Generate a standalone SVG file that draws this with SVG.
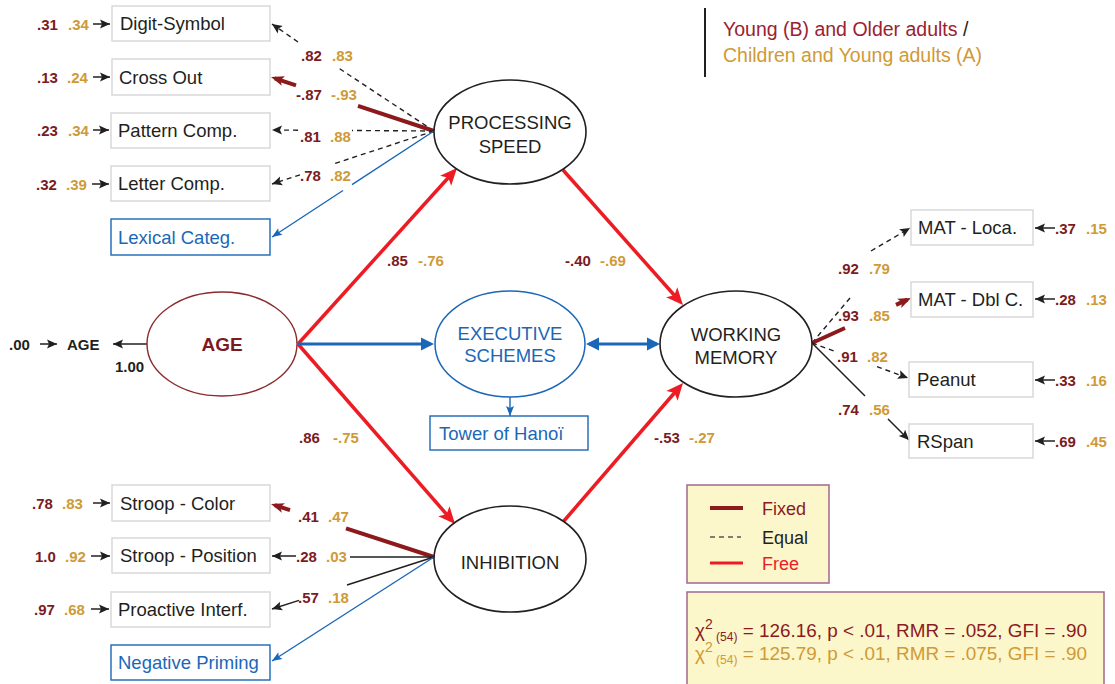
<svg xmlns="http://www.w3.org/2000/svg" width="1115" height="684" viewBox="0 0 1115 684">
  <defs>
    <style>
      text { font-family: "Liberation Sans", Arial, sans-serif; }
      .box { fill: #ffffff; stroke: #d9d9d9; stroke-width: 1.5; }
      .bbox { fill: #ffffff; stroke: #1b67b7; stroke-width: 1.4; }
      .btxt { font-size: 18.5px; fill: #231f20; }
      .btxtb { font-size: 18.5px; fill: #1b67b7; }
      .lat { fill: #ffffff; stroke: #231f20; stroke-width: 1.6; }
      .ltxt { font-size: 18.5px; fill: #231f20; text-anchor: middle; }
      .v1 { font-size: 15px; font-weight: bold; fill: #7b1b1f; }
      .v2 { font-size: 15px; font-weight: bold; fill: #cf9a36; }
      .vk { font-size: 15px; font-weight: bold; fill: #231f20; }
      .eq { fill: none; stroke: #231f20; stroke-width: 1.4; stroke-dasharray: 5 4; }
      .thin { fill: none; stroke: #231f20; stroke-width: 1.5; }
      .fix { fill: none; stroke: #8c1a1c; stroke-width: 4; }
      .free { fill: none; stroke: #ed1c24; stroke-width: 3.5; }
      .bl { fill: none; stroke: #1b67b7; stroke-width: 1.4; }
      .blk { fill: none; stroke: #1b67b7; stroke-width: 3; }
      .panel { fill: #fcf6cb; stroke: #a2678f; stroke-width: 1.5; }
    </style>
    <marker id="mBlk" markerUnits="userSpaceOnUse" markerWidth="11" markerHeight="10" refX="10" refY="4.5" orient="auto" overflow="visible">
      <path d="M0,0 L10,4.5 L0,9 L2,4.5 z" fill="#231f20"/>
    </marker>
    <marker id="mBlue" markerUnits="userSpaceOnUse" markerWidth="11" markerHeight="9" refX="10" refY="4" orient="auto" overflow="visible">
      <path d="M0,0 L10,4 L0,8 L2,4 z" fill="#1b67b7"/>
    </marker>
    <marker id="mBlueBig" markerUnits="userSpaceOnUse" markerWidth="14" markerHeight="14" refX="10" refY="6.5" orient="auto-start-reverse" overflow="visible">
      <path d="M0,0 L13,6.5 L0,13 z" fill="#1b67b7"/>
    </marker>
    <marker id="mRed" markerUnits="userSpaceOnUse" markerWidth="18" markerHeight="16" refX="11" refY="7.5" orient="auto" overflow="visible">
      <path d="M0,0 L17,7.5 L0,15 L4,7.5 z" fill="#ed1c24"/>
    </marker>
    <marker id="mFix" markerUnits="userSpaceOnUse" markerWidth="14" markerHeight="11" refX="9" refY="5" orient="auto" overflow="visible">
      <path d="M0,0 L13,5 L0,10 L3,5 z" fill="#8c1a1c"/>
    </marker>
  </defs>

  <rect x="0" y="0" width="1115" height="684" fill="#ffffff"/>

  <!-- connectors -->
  <g id="connectors">
    <!-- processing speed loadings -->
    <path class="eq" d="M434,131 L337,67 M298,42 L272,24" marker-end="url(#mBlk)"/>
    <path class="fix" d="M434,131 L358,105.8 M296,85.3 L274.8,78.3" marker-end="url(#mFix)"/>
    <path class="eq" d="M434,131 L352,130.5 M298,130.2 L272,130" marker-end="url(#mBlk)"/>
    <path class="eq" d="M434,131 L335,163.4 M300,174.8 L272,184" marker-end="url(#mBlk)"/>
    <path class="bl" d="M434,131 L352,184.6 M343,190.5 L272,237" marker-end="url(#mBlue)"/>

    <!-- inhibition loadings -->
    <path class="fix" d="M434,557 L346,528.4 M290,510.2 L274.8,505.2" marker-end="url(#mFix)"/>
    <path class="thin" d="M434,557 L350,557 M296,556 L272,556" marker-end="url(#mBlk)"/>
    <path class="thin" d="M434,557 L347,585 M299,600.4 L272,609" marker-end="url(#mBlk)"/>
    <path class="bl" d="M434,557 L272,661" marker-end="url(#mBlue)"/>

    <!-- working memory loadings -->
    <path class="eq" d="M812,343 L850,298 M871,251 L910,228" marker-end="url(#mBlk)"/>
    <path class="fix" d="M812,343 L845,328 M896,304.8 L907.4,299.7" marker-end="url(#mFix)"/>
    <path class="eq" d="M812,343 L835,351.4 M877,366.7 L908,378" marker-end="url(#mBlk)"/>
    <path class="thin" d="M812,343 L865,396 M888,419 L909,440" marker-end="url(#mBlk)"/>

    <!-- structural paths -->
    <path class="free" d="M298,344 L453,172.5" marker-end="url(#mRed)"/>
    <path class="free" d="M298,344 L451.1,519.5" marker-end="url(#mRed)"/>
    <path class="free" d="M563,170 L679,300.5" marker-end="url(#mRed)"/>
    <path class="free" d="M563,522 L679.1,387.5" marker-end="url(#mRed)"/>
    <path class="blk" d="M298,344 L431,344" marker-end="url(#mBlueBig)"/>
    <path class="blk" d="M589,344 L657,344" marker-start="url(#mBlueBig)" marker-end="url(#mBlueBig)"/>
    <path class="bl" d="M510,397 L510,416" marker-end="url(#mBlue)"/>

    <!-- AGE indicator -->
    <path class="thin" d="M147,344 L113,344" marker-end="url(#mBlk)"/>
    <path class="thin" d="M40,344 L57,344" marker-end="url(#mBlk)"/>

    <!-- residual arrows, left -->
    <path class="thin" d="M93,24 L110,24" marker-end="url(#mBlk)"/>
    <path class="thin" d="M93,77 L110,77" marker-end="url(#mBlk)"/>
    <path class="thin" d="M93,130 L109,130" marker-end="url(#mBlk)"/>
    <path class="thin" d="M92,184 L109,184" marker-end="url(#mBlk)"/>
    <path class="thin" d="M93,503 L110,503" marker-end="url(#mBlk)"/>
    <path class="thin" d="M91,556 L110,556" marker-end="url(#mBlk)"/>
    <path class="thin" d="M91,609 L109,609" marker-end="url(#mBlk)"/>

    <!-- residual arrows, right -->
    <path class="thin" d="M1055,228 L1035,228" marker-end="url(#mBlk)"/>
    <path class="thin" d="M1055,299 L1035,299" marker-end="url(#mBlk)"/>
    <path class="thin" d="M1055,380 L1035,380" marker-end="url(#mBlk)"/>
    <path class="thin" d="M1055,441 L1035,441" marker-end="url(#mBlk)"/>
  </g>

  <!-- latent variables -->
  <g id="processing-speed">
    <ellipse class="lat" cx="510" cy="132" rx="76" ry="52"/>
    <text class="ltxt" x="510" y="128.5">PROCESSING</text>
    <text class="ltxt" x="510" y="152.5">SPEED</text>
  </g>
  <g id="age">
    <ellipse cx="222" cy="344" rx="75" ry="52" fill="#ffffff" stroke="#8b2b2b" stroke-width="1.4"/>
    <text x="222" y="351" text-anchor="middle" font-size="19" font-weight="bold" fill="#7b1b1f">AGE</text>
  </g>
  <g id="executive-schemes">
    <ellipse cx="510" cy="344" rx="75" ry="53" fill="#ffffff" stroke="#1b67b7" stroke-width="1.5"/>
    <text x="510" y="339.5" text-anchor="middle" font-size="18.5" fill="#1b67b7">EXECUTIVE</text>
    <text x="510" y="361.5" text-anchor="middle" font-size="18.5" fill="#1b67b7">SCHEMES</text>
  </g>
  <g id="working-memory">
    <ellipse class="lat" cx="736" cy="344" rx="76" ry="53"/>
    <text class="ltxt" x="736" y="340.5">WORKING</text>
    <text class="ltxt" x="736" y="363.5">MEMORY</text>
  </g>
  <g id="inhibition">
    <ellipse class="lat" cx="510" cy="559" rx="76" ry="53"/>
    <text class="ltxt" x="510" y="568.5">INHIBITION</text>
  </g>

  <!-- observed measures -->
  <g id="digit-symbol"><rect class="box" x="112" y="6" width="158" height="35"/><text class="btxt" x="120" y="30">Digit-Symbol</text></g>
  <g id="cross-out"><rect class="box" x="112" y="59" width="158" height="36"/><text class="btxt" x="119" y="83.5">Cross Out</text></g>
  <g id="pattern-comp"><rect class="box" x="111" y="113" width="159" height="35"/><text class="btxt" x="118" y="137">Pattern Comp.</text></g>
  <g id="letter-comp"><rect class="box" x="111" y="166" width="159" height="35"/><text class="btxt" x="118" y="190">Letter Comp.</text></g>
  <g id="lexical-categ"><rect class="bbox" x="111" y="219" width="159" height="36"/><text class="btxtb" x="118" y="244">Lexical Categ.</text></g>

  <g id="stroop-color"><rect class="box" x="112" y="485" width="158" height="36"/><text class="btxt" x="120" y="509.5">Stroop - Color</text></g>
  <g id="stroop-position"><rect class="box" x="112" y="538" width="158" height="35"/><text class="btxt" x="120" y="562">Stroop - Position</text></g>
  <g id="proactive-interf"><rect class="box" x="111" y="592" width="159" height="35"/><text class="btxt" x="118" y="616">Proactive Interf.</text></g>
  <g id="negative-priming"><rect class="bbox" x="111" y="645" width="159" height="35"/><text class="btxtb" x="118" y="669">Negative Priming</text></g>

  <g id="tower-of-hanoi"><rect class="bbox" x="430" y="416" width="158" height="34"/><text class="btxtb" x="439" y="440">Tower of Hanoï</text></g>

  <g id="mat-loca"><rect class="box" x="911" y="210" width="122" height="35"/><text class="btxt" x="918" y="234">MAT - Loca.</text></g>
  <g id="mat-dbl"><rect class="box" x="911" y="282" width="122" height="35"/><text class="btxt" x="918" y="306">MAT - Dbl C.</text></g>
  <g id="peanut"><rect class="box" x="909" y="362" width="124" height="35"/><text class="btxt" x="917" y="386">Peanut</text></g>
  <g id="rspan"><rect class="box" x="909" y="424" width="124" height="34"/><text class="btxt" x="917" y="448">RSpan</text></g>

  <!-- AGE indicator labels -->
  <g id="age-indicator">
    <text class="vk" x="9" y="349.5">.00</text>
    <text class="vk" x="67" y="349.5">AGE</text>
    <text class="vk" x="115" y="371.5">1.00</text>
  </g>

  <!-- coefficients -->
  <g id="coefficients">
    <!-- residuals left -->
    <text class="v1" x="37" y="29.5">.31</text><text class="v2" x="68" y="29.5">.34</text>
    <text class="v1" x="37" y="82.5">.13</text><text class="v2" x="67" y="82.5">.24</text>
    <text class="v1" x="37" y="135.5">.23</text><text class="v2" x="68" y="135.5">.34</text>
    <text class="v1" x="36" y="189.5">.32</text><text class="v2" x="66" y="189.5">.39</text>
    <text class="v1" x="32" y="508.5">.78</text><text class="v2" x="62" y="508.5">.83</text>
    <text class="v1" x="35" y="561.5">1.0</text><text class="v2" x="65" y="561.5">.92</text>
    <text class="v1" x="34" y="614.5">.97</text><text class="v2" x="64" y="614.5">.68</text>
    <!-- residuals right -->
    <text class="v1" x="1055" y="233.5">.37</text><text class="v2" x="1086" y="233.5">.15</text>
    <text class="v1" x="1055" y="304.5">.28</text><text class="v2" x="1086" y="304.5">.13</text>
    <text class="v1" x="1055" y="385.5">.33</text><text class="v2" x="1086" y="385.5">.16</text>
    <text class="v1" x="1055" y="446.5">.69</text><text class="v2" x="1086" y="446.5">.45</text>
    <!-- loadings -->
    <text class="v1" x="301" y="60.5">.82</text><text class="v2" x="332" y="60.5">.83</text>
    <text class="v1" x="296" y="99.5">-.87</text><text class="v2" x="331" y="99.5">-.93</text>
    <text class="v1" x="300" y="141.5">.81</text><text class="v2" x="330" y="141.5">.88</text>
    <text class="v1" x="300" y="180.5">.78</text><text class="v2" x="330" y="180.5">.82</text>
    <text class="v1" x="298" y="521.5">.41</text><text class="v2" x="328" y="521.5">.47</text>
    <text class="v1" x="296" y="561.5">.28</text><text class="v2" x="326" y="561.5">.03</text>
    <text class="v1" x="298" y="602.5">.57</text><text class="v2" x="328" y="602.5">.18</text>
    <text class="v1" x="838" y="273.5">.92</text><text class="v2" x="869" y="273.5">.79</text>
    <text class="v1" x="838" y="320.5">.93</text><text class="v2" x="869" y="320.5">.85</text>
    <text class="v1" x="837" y="361.5">.91</text><text class="v2" x="867" y="361.5">.82</text>
    <text class="v1" x="838" y="414.5">.74</text><text class="v2" x="869" y="414.5">.56</text>
    <!-- structural -->
    <text class="v1" x="387" y="265.5">.85</text><text class="v2" x="418" y="265.5">-.76</text>
    <text class="v1" x="565" y="265.5">-.40</text><text class="v2" x="600" y="265.5">-.69</text>
    <text class="v1" x="299" y="442.5">.86</text><text class="v2" x="333" y="442.5">-.75</text>
    <text class="v1" x="654" y="442.5">-.53</text><text class="v2" x="689" y="442.5">-.27</text>
  </g>

  <!-- group key, top right -->
  <g id="group-key">
    <line x1="705" y1="8" x2="705" y2="77" stroke="#231f20" stroke-width="2"/>
    <text x="723" y="36" font-family="Lato, 'Open Sans', sans-serif" font-size="19.5" fill="#9b2230">Young (B) and Older adults <tspan fill="#231f20">/</tspan></text>
    <text x="723" y="62" font-family="Lato, 'Open Sans', sans-serif" font-size="19.5" fill="#d09a35">Children and Young adults (A)</text>
  </g>

  <!-- line type legend -->
  <g id="legend">
    <rect class="panel" x="687" y="485" width="142" height="98"/>
    <line x1="710" y1="508" x2="743" y2="508" stroke="#8c1a1c" stroke-width="4"/>
    <text x="762" y="515" font-size="18" fill="#8c1a1c">Fixed</text>
    <line x1="710" y1="537" x2="741" y2="537" stroke="#555555" stroke-width="1.4" stroke-dasharray="5 4"/>
    <text x="762" y="544" font-size="18" fill="#231f20">Equal</text>
    <line x1="710" y1="563" x2="743" y2="563" stroke="#ed1c24" stroke-width="3"/>
    <text x="762" y="570" font-size="18" fill="#ed1c24">Free</text>
  </g>

  <!-- fit statistics -->
  <g id="fit-stats">
    <rect class="panel" x="687" y="592" width="417" height="100"/>
    <text x="695" y="637" font-size="18.9" fill="#8a1c1f">χ<tspan font-size="14" dy="-8">2</tspan><tspan font-size="12" dy="12"> (54)</tspan><tspan dy="-4"> = 126.16, p &lt; .01, RMR = .052, GFI = .90</tspan></text>
    <text x="695" y="660" font-size="18.9" fill="#d09a35">χ<tspan font-size="14" dy="-8">2</tspan><tspan font-size="12" dy="12"> (54)</tspan><tspan dy="-4"> = 125.79, p &lt; .01, RMR = .075, GFI = .90</tspan></text>
  </g>
</svg>
